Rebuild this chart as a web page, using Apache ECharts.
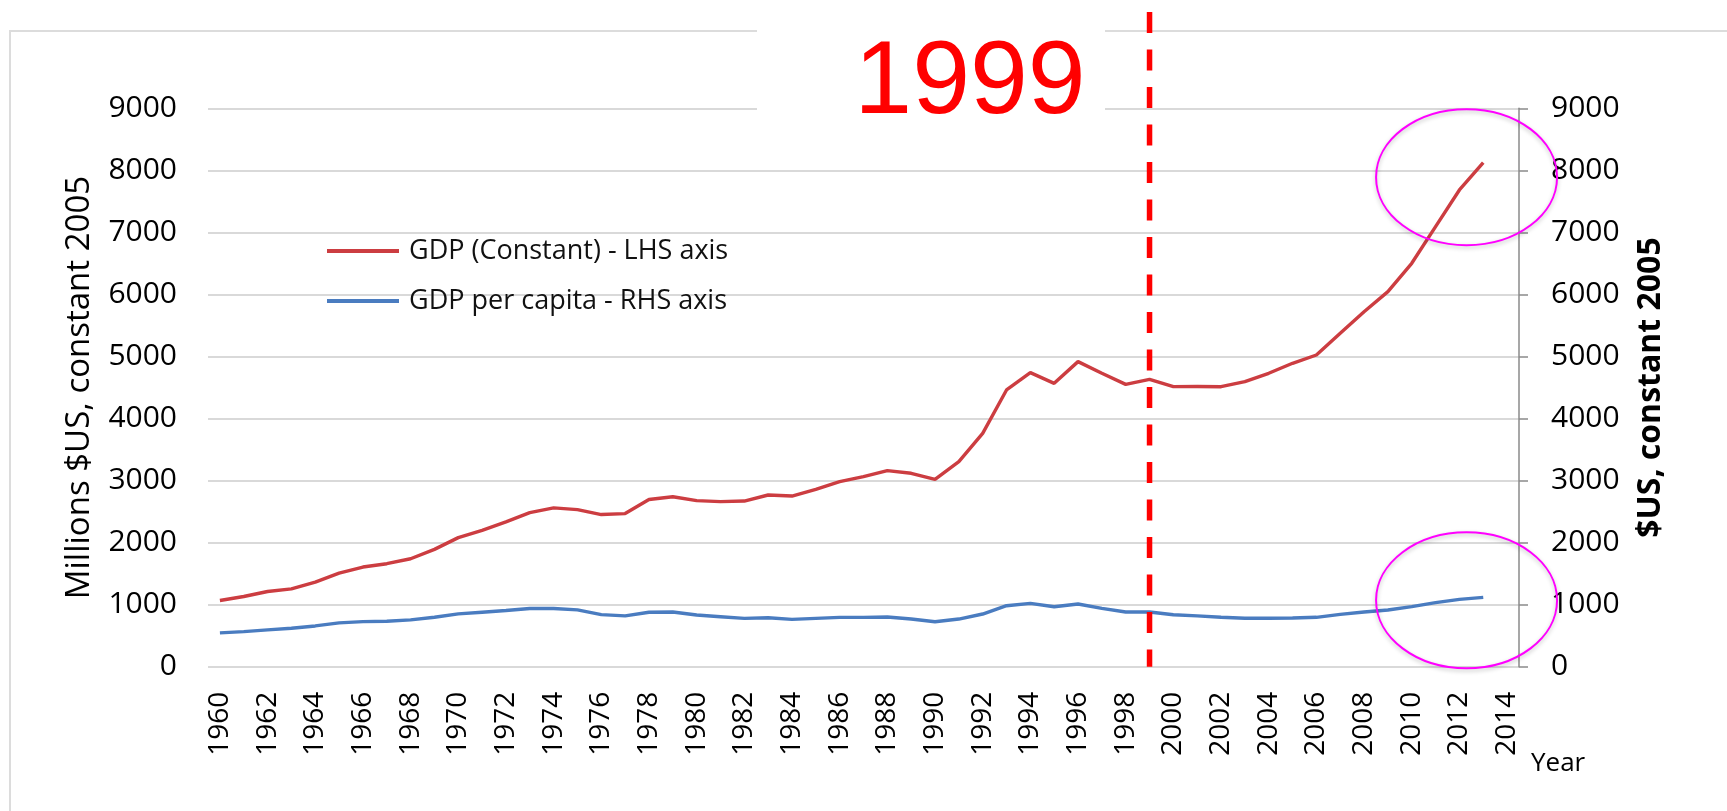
<!DOCTYPE html>
<html>
<head>
<meta charset="utf-8">
<script src="https://cdn.jsdelivr.net/npm/echarts@6/dist/echarts.min.js"></script>
<style>
html, body { margin: 0; padding: 0; background: #fff; }
#chart { width: 1727px; height: 811px; }
</style>
</head>
<body>
<div id="chart"></div>
<script>
// years on the category axis (2014 only carries a label)
const years = ['1960', '1961', '1962', '1963', '1964', '1965', '1966', '1967', '1968', '1969',
  '1970', '1971', '1972', '1973', '1974', '1975', '1976', '1977', '1978', '1979',
  '1980', '1981', '1982', '1983', '1984', '1985', '1986', '1987', '1988', '1989',
  '1990', '1991', '1992', '1993', '1994', '1995', '1996', '1997', '1998', '1999',
  '2000', '2001', '2002', '2003', '2004', '2005', '2006', '2007', '2008', '2009',
  '2010', '2011', '2012', '2013', '2014']

// GDP (constant 2005), millions $US - LHS
const gdpConstant = [1067, 1131, 1212, 1255, 1363, 1509, 1606, 1660, 1740, 1891,
  2080, 2198, 2333, 2484, 2559, 2532, 2452, 2468, 2694, 2740,
  2676, 2660, 2670, 2767, 2751, 2859, 2982, 3063, 3160, 3117,
  3020, 3305, 3761, 4460, 4739, 4567, 4917, 4729, 4551, 4632,
  4514, 4515, 4513, 4594, 4729, 4890, 5024, 5374, 5722, 6045,
  6502, 7092, 7684, 8124]

// GDP per capita (constant 2005), $US - RHS
const gdpPerCapita = [545, 566, 593, 620, 657, 706, 727, 733, 754, 797,
  851, 878, 905, 938, 938, 916, 840, 819, 878, 881,
  833, 806, 779, 790, 763, 779, 795, 795, 801, 768,
  725, 768, 849, 983, 1021, 967, 1010, 940, 881, 881,
  838, 820, 796, 780, 780, 785, 796, 844, 882, 914,
  968, 1032, 1086, 1118]

const axisMin = 0
const axisMax = 9000
const axisStep = 1000

const markYear = '1999'
// circled spots: [year, value on the axis]
const circles = [['2012', 7890], ['2012', 1070]]

const textFont = '"Open Sans", "Noto Sans", sans-serif'
const gdpColor = '#cc3d41'
const capitaColor = '#4a7cc0'

const plainNumber = function (v) { return String(v) }

const chart = echarts.init(document.getElementById('chart'))

const option = {
  animation: false,
  backgroundColor: '#fff',
  textStyle: { fontFamily: textFont, color: '#000' },
  grid: { left: 208, right: 208, top: 108.3, bottom: 144.3 },
  legend: {
    orient: 'vertical',
    left: 327,
    top: 236,
    padding: 0,
    itemGap: 20,
    itemWidth: 72,
    itemHeight: 4,
    icon: 'rect',
    textStyle: { fontFamily: textFont, fontSize: 27, color: '#111', lineHeight: 30, padding: [0, 0, 0, 5] },
    data: ['GDP (Constant) - LHS axis', 'GDP per capita - RHS axis']
  },
  xAxis: {
    type: 'category',
    data: years,
    boundaryGap: true,
    name: 'Year',
    nameLocation: 'end',
    nameGap: 12,
    nameTextStyle: { fontFamily: textFont, fontSize: 26, color: '#000', verticalAlign: 'top', padding: [84, 0, 0, 0] },
    axisLine: { show: false },
    axisTick: { show: false },
    axisLabel: { interval: 1, rotate: 90, margin: 25, fontSize: 28, color: '#000', fontFamily: textFont }
  },
  yAxis: [
    {
      type: 'value',
      min: axisMin,
      max: axisMax,
      interval: axisStep,
      name: 'Millions $US, constant 2005',
      nameLocation: 'middle',
      nameRotate: 90,
      nameGap: 112,
      nameTextStyle: { fontFamily: textFont, fontSize: 33, color: '#000' },
      axisLine: { show: false },
      axisTick: { show: false },
      axisLabel: { margin: 31, fontSize: 30, color: '#000', fontFamily: textFont, formatter: plainNumber },
      splitLine: { lineStyle: { color: '#d9d9d9', width: 2 } }
    },
    {
      type: 'value',
      position: 'right',
      min: axisMin,
      max: axisMax,
      interval: axisStep,
      name: '$US, constant 2005',
      nameLocation: 'middle',
      nameRotate: 90,
      nameGap: 116,
      nameTextStyle: { fontFamily: textFont, fontSize: 32, fontWeight: 'bold', color: '#000' },
      axisLine: { show: true, lineStyle: { color: '#8a8a8a', width: 1.5 } },
      axisTick: { show: true, length: 9, lineStyle: { color: '#8a8a8a', width: 1.5 } },
      axisLabel: { margin: 32, fontSize: 30, color: '#000', fontFamily: textFont, formatter: plainNumber },
      splitLine: { show: false }
    }
  ],
  series: [
    {
      name: 'GDP (Constant) - LHS axis',
      type: 'line',
      yAxisIndex: 0,
      data: gdpConstant,
      color: gdpColor,
      symbol: 'none',
      lineStyle: { color: gdpColor, width: 3.4 }
    },
    {
      name: 'GDP per capita - RHS axis',
      type: 'line',
      yAxisIndex: 1,
      data: gdpPerCapita,
      color: capitaColor,
      symbol: 'none',
      lineStyle: { color: capitaColor, width: 3.4 }
    }
  ]
}

chart.setOption(option)

// annotations drawn on top: frame, 1999 marker, circles
const xMark = chart.convertToPixel({ xAxisIndex: 0 }, markYear)
const yBase = chart.convertToPixel({ yAxisIndex: 0 }, axisMin)
const step = chart.convertToPixel({ xAxisIndex: 0 }, years[1]) - chart.convertToPixel({ xAxisIndex: 0 }, years[0])

const circleEls = circles.map(function (c) {
  const p = chart.convertToPixel({ xAxisIndex: 0, yAxisIndex: 0 }, c)
  return {
    type: 'ellipse',
    z: 30,
    silent: true,
    shape: { cx: p[0] + step * 0.3, cy: p[1], rx: 90.5, ry: 68 },
    style: {
      fill: 'none', stroke: '#ff00ff', lineWidth: 2,
      shadowBlur: 4, shadowColor: 'rgba(0,0,0,0.25)', shadowOffsetY: 2
    }
  }
})

chart.setOption({
  graphic: [
    {
      type: 'rect',
      z: -10,
      silent: true,
      shape: { x: 10, y: 31, width: 1900, height: 900 },
      style: { fill: 'none', stroke: '#dcdcdc', lineWidth: 2 }
    },
    {
      type: 'rect',
      z: 20,
      silent: true,
      shape: { x: 757, y: 0, width: 348, height: 130 },
      style: { fill: '#fff' }
    },
    {
      type: 'text',
      z: 21,
      silent: true,
      style: {
        text: markYear,
        x: 970,
        y: 84,
        fill: '#ff0000',
        font: '104px "Liberation Sans", Arial, sans-serif',
        textAlign: 'center',
        textVerticalAlign: 'middle',
        align: 'center',
        verticalAlign: 'middle'
      }
    },
    {
      type: 'line',
      z: 22,
      silent: true,
      shape: { x1: xMark, y1: 12, x2: xMark, y2: yBase },
      style: { stroke: '#ff0000', lineWidth: 5.5, lineDash: [21, 16.5] }
    }
  ].concat(circleEls)
})
</script>
</body>
</html>
